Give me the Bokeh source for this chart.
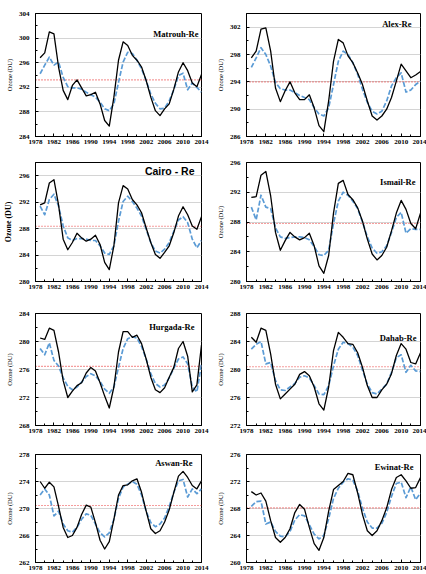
from bokeh.plotting import figure
from bokeh.models import Range1d, FixedTicker, Span, Label
from bokeh.layouts import gridplot
from bokeh.embed import file_html
from bokeh.resources import INLINE

# ---------------------------------------------------------------- data
years = list(range(1979, 2015))
x_ticks = [1978, 1982, 1986, 1990, 1994, 1998, 2002, 2006, 2010, 2014]
x_minor = list(range(1978, 2015, 2))

stations = ["Matrouh-Re", "Alex-Re", "Cairo - Re", "Ismail-Re",
            "Hurgada-Re", "Dahab-Re", "Aswan-Re", "Ewinat-Re"]

matrouh_obs = [296.8, 297.6, 301.0, 300.7, 295.3, 291.5, 290.0, 292.3, 293.2, 291.9,
               290.6, 290.8, 291.2, 289.3, 286.6, 285.7, 290.4, 296.4, 299.4, 298.8,
               297.2, 296.4, 295.3, 293.1, 290.4, 288.2, 287.4, 288.5, 289.3, 291.7,
               294.5, 296.0, 294.7, 292.7, 292.1, 294.1]
matrouh_fit = [294.2, 295.6, 296.9, 295.6, 296.1, 293.6, 292.1, 291.9, 291.9, 291.7,
               291.2, 290.8, 290.4, 289.6, 288.5, 288.2, 289.3, 292.8, 296.1, 297.7,
               297.5, 296.4, 295.0, 293.1, 290.9, 289.4, 288.5, 288.6, 289.8, 291.6,
               293.9, 294.3, 291.6, 292.7, 292.0, 291.2]

alex_obs = [297.5, 298.5, 301.7, 301.9, 298.5, 293.1, 291.1, 292.7, 294.0, 292.4,
            291.4, 291.4, 292.1, 290.2, 287.6, 286.7, 291.2, 297.0, 300.2, 299.7,
            297.8, 296.8, 295.3, 293.6, 291.2, 289.0, 288.4, 289.0, 290.0, 291.7,
            294.1, 296.6, 295.6, 294.6, 295.0, 295.5]
alex_fit = [296.1, 297.5, 299.0, 298.0, 296.3, 293.9, 293.0, 292.8, 292.8, 292.4,
            292.0, 291.7, 291.4, 290.2, 289.3, 289.0, 290.2, 293.6, 297.0, 298.5,
            298.0, 296.8, 295.1, 292.9, 291.0, 289.7, 289.3, 289.7, 291.2, 293.4,
            294.6, 295.3, 292.5, 292.8, 293.6, 294.1]

cairo_obs = [291.6, 291.9, 294.9, 295.4, 291.6, 286.4, 284.8, 285.9, 287.3, 286.6,
             286.1, 286.4, 287.0, 285.6, 282.9, 281.8, 285.4, 291.9, 294.5, 294.0,
             292.4, 291.6, 290.4, 288.1, 285.9, 284.1, 283.5, 284.4, 285.4, 287.4,
             289.9, 291.3, 290.1, 288.4, 287.9, 289.8]
cairo_fit = [291.4, 290.1, 292.4, 293.2, 291.4, 288.4, 286.6, 286.2, 286.5, 286.5,
             286.4, 286.2, 286.2, 285.4, 284.3, 284.1, 285.4, 289.1, 292.1, 292.9,
             292.1, 291.1, 289.9, 287.9, 285.9, 284.6, 284.3, 284.9, 285.9, 287.6,
             289.3, 289.8, 288.9, 286.4, 285.1, 286.2]

ismail_obs = [291.3, 291.4, 294.3, 294.8, 291.5, 286.6, 284.2, 285.5, 286.6, 286.0,
              285.6, 285.9, 286.5, 284.8, 282.1, 281.1, 283.5, 289.2, 293.2, 293.6,
              291.7, 291.0, 289.9, 288.1, 285.7, 283.7, 282.9, 283.5, 284.6, 286.8,
              289.2, 290.9, 289.7, 287.8, 287.1, 289.2]
ismail_fit = [290.0, 288.3, 291.6, 290.0, 289.8, 287.2, 286.0, 285.8, 285.9, 286.0,
              286.0, 285.9, 285.6, 284.7, 283.6, 283.5, 284.2, 287.8, 290.8, 292.0,
              291.6, 290.8, 289.8, 288.0, 286.0, 284.5, 283.8, 284.0, 284.8, 286.6,
              288.6, 289.3, 286.5, 287.1, 287.0, 287.0]

hurgada_obs = [280.5, 280.3, 281.9, 281.6, 278.5, 274.4, 272.0, 272.9, 273.7, 274.1,
               275.5, 276.3, 275.8, 274.1, 272.2, 270.5, 273.5, 278.5, 281.4, 281.4,
               280.6, 280.9, 279.7, 277.5, 274.9, 273.1, 272.7, 273.4, 274.9, 276.3,
               279.0, 280.0, 277.9, 272.8, 273.8, 279.5]
hurgada_fit = [279.0, 278.1, 279.8, 277.3, 276.5, 274.8, 273.6, 273.1, 273.5, 274.2,
               275.0, 275.4, 275.1, 274.3, 273.2, 272.6, 273.5, 276.3, 279.0, 280.4,
               280.7, 280.5, 279.3, 277.5, 275.4, 274.0, 273.5, 273.8, 274.8, 276.2,
               277.5, 277.8, 276.8, 273.5, 272.8, 276.8]

dahab_obs = [284.6, 283.9, 285.9, 285.6, 282.2, 277.9, 275.8, 276.5, 277.2, 277.9,
             279.3, 279.7, 279.1, 277.5, 275.1, 274.2, 277.5, 282.7, 285.3, 284.6,
             283.7, 283.6, 282.4, 280.3, 277.7, 276.0, 276.0, 277.1, 277.9, 279.4,
             282.0, 283.7, 282.9, 281.0, 280.8, 282.4]
dahab_fit = [282.9, 283.6, 284.0, 280.8, 281.0, 278.4, 277.1, 277.0, 277.5, 278.0,
             278.9, 279.1, 278.8, 277.7, 276.5, 276.4, 277.7, 280.5, 282.9, 283.9,
             283.7, 283.2, 282.0, 279.9, 277.9, 276.7, 276.5, 277.2, 277.9, 279.6,
             281.7, 282.1, 279.6, 280.6, 279.8, 279.7]

aswan_obs = [274.0, 273.0, 273.9, 273.2, 270.3, 267.2, 265.7, 266.0, 267.2, 269.1,
             270.5, 270.2, 267.9, 265.3, 264.0, 265.1, 268.4, 272.0, 273.4, 273.5,
             274.1, 274.4, 272.4, 269.6, 267.0, 266.3, 266.7, 268.0, 269.8, 272.4,
             274.8, 275.5, 274.6, 273.4, 272.9, 274.1]
aswan_fit = [272.0, 272.9, 272.0, 268.9, 269.6, 267.7, 266.7, 266.5, 267.2, 268.4,
             269.2, 269.0, 267.7, 266.4, 265.8, 266.4, 268.4, 271.5, 273.2, 273.6,
             274.0, 273.6, 272.0, 269.6, 267.9, 267.3, 267.7, 268.6, 270.3, 272.4,
             274.1, 274.3, 271.7, 272.9, 272.2, 272.9]

ewinat_obs = [270.5, 270.0, 270.3, 269.1, 266.2, 263.7, 263.0, 263.7, 265.0, 267.4,
              268.6, 267.9, 265.2, 262.8, 261.8, 263.7, 267.6, 270.8, 271.4, 272.0,
              273.2, 273.0, 270.3, 267.1, 264.7, 264.0, 264.7, 266.2, 268.1, 270.8,
              272.6, 273.0, 272.1, 271.0, 271.1, 272.6]
ewinat_fit = [268.3, 269.0, 269.1, 265.7, 266.0, 264.6, 263.9, 263.8, 264.6, 266.3,
              267.1, 266.9, 265.6, 264.2, 263.5, 264.0, 266.5, 269.5, 271.0, 271.9,
              272.4, 272.2, 270.6, 268.0, 266.0, 265.1, 265.1, 265.8, 267.4, 269.8,
              271.7, 271.9, 269.6, 271.2, 269.3, 270.3]

# long-term mean of each station (dotted red reference line)
station_means = [293.2, 294.0, 288.35, 287.8, 276.45, 280.4, 270.45, 268.1]

# y-axis tick labels and limits per station
y_ticks = [[284, 288, 292, 296, 300, 304],
           [286, 290, 294, 298, 302],
           [280, 284, 288, 292, 296],
           [280, 284, 288, 292, 296],
           [268, 272, 276, 280, 284],
           [272, 276, 280, 284, 288],
           [262, 266, 270, 274, 278],
           [260, 264, 268, 272, 276]]
y_limits = [(284, 304), (286, 304), (280, 298), (280, 296),
            (268, 284), (272, 288), (262, 278), (260, 276)]

observed = [matrouh_obs, alex_obs, cairo_obs, ismail_obs,
            hurgada_obs, dahab_obs, aswan_obs, ewinat_obs]
fitted = [matrouh_fit, alex_fit, cairo_fit, ismail_fit,
          hurgada_fit, dahab_fit, aswan_fit, ewinat_fit]

# ---------------------------------------------------------------- layout
SERIF = "Liberation Serif"
row_heights = [148, 145, 144, 137]
row_tops = [13, 14, 20, 17]
col_left = [28, 33]
col_right = [12, 6]
# station name placement inside the frame: (px from right, px from top)
name_pos = [(3, 20), (9, 10), (7, 8), (5, 19), (7, 13), (4, 24), (9, 8), (7, 12)]


def make_panel(i):
    r, c = divmod(i, 2)
    lo, hi = y_limits[i]
    p = figure(width=213, height=row_heights[r],
               x_range=Range1d(1978, 2014), y_range=Range1d(lo, hi),
               output_backend="svg", toolbar_location=None, tools="")
    p.min_border = 0
    p.min_border_left = col_left[c]
    p.min_border_right = col_right[c]
    p.min_border_top = row_tops[r]
    p.min_border_bottom = 12
    p.outline_line_color = "black"
    p.outline_line_width = 1
    p.background_fill_color = "white"
    p.border_fill_color = "white"

    p.xgrid.visible = False
    p.ygrid.grid_line_color = "#d4d4d4"
    p.ygrid.grid_line_width = 1

    p.xaxis.ticker = FixedTicker(ticks=x_ticks, minor_ticks=x_minor)
    yt = y_ticks[i]
    p.yaxis.ticker = FixedTicker(ticks=yt, minor_ticks=[t + 2 for t in yt])
    p.ygrid.ticker = FixedTicker(ticks=yt)

    for ax in (p.xaxis[0], p.yaxis[0]):
        ax.axis_line_color = "black"
        ax.major_tick_in = 3
        ax.major_tick_out = 0
        ax.minor_tick_in = 2
        ax.minor_tick_out = 0
        ax.major_label_text_font = SERIF
        ax.major_label_text_font_style = "bold"
        ax.major_label_text_font_size = "7px"
        ax.major_label_text_color = "black"
    p.xaxis.major_label_standoff = 3
    p.yaxis.major_label_standoff = 6

    p.yaxis.axis_label = "Ozone (DU)"
    p.yaxis.axis_label_text_font = SERIF
    p.yaxis.axis_label_text_color = "black"
    p.yaxis.axis_label_standoff = 3
    if i == 2:
        p.yaxis.axis_label_text_font_style = "bold"
        p.yaxis.axis_label_text_font_size = "8px"
    else:
        p.yaxis.axis_label_text_font_style = "normal"
        p.yaxis.axis_label_text_font_size = "6.5px"

    p.add_layout(Span(location=station_means[i], dimension="width",
                      line_color="#ea3b3b", line_width=1.1,
                      line_dash="1 2", level="underlay"))

    p.line(years, fitted[i], line_color="#5b9bd5", line_width=1.7,
           line_dash="5 2", line_join="round")
    p.line(years, observed[i], line_color="black", line_width=1.3,
           line_join="round")

    dx, dy = name_pos[i]
    if i == 2:
        font, size = "Liberation Sans", "10.5px"
    else:
        font, size = SERIF, "8.5px"
    p.add_layout(Label(x=2014, y=hi, x_offset=-dx, y_offset=-dy,
                       text=stations[i], text_align="right",
                       text_baseline="middle", text_font=font,
                       text_font_size=size, text_font_style="bold",
                       text_color="black"))
    return p


panels = [make_panel(i) for i in range(8)]
grid = gridplot([panels[0:2], panels[2:4], panels[4:6], panels[6:8]],
                toolbar_location=None)

open("out.html", "w").write(file_html(grid, INLINE))
